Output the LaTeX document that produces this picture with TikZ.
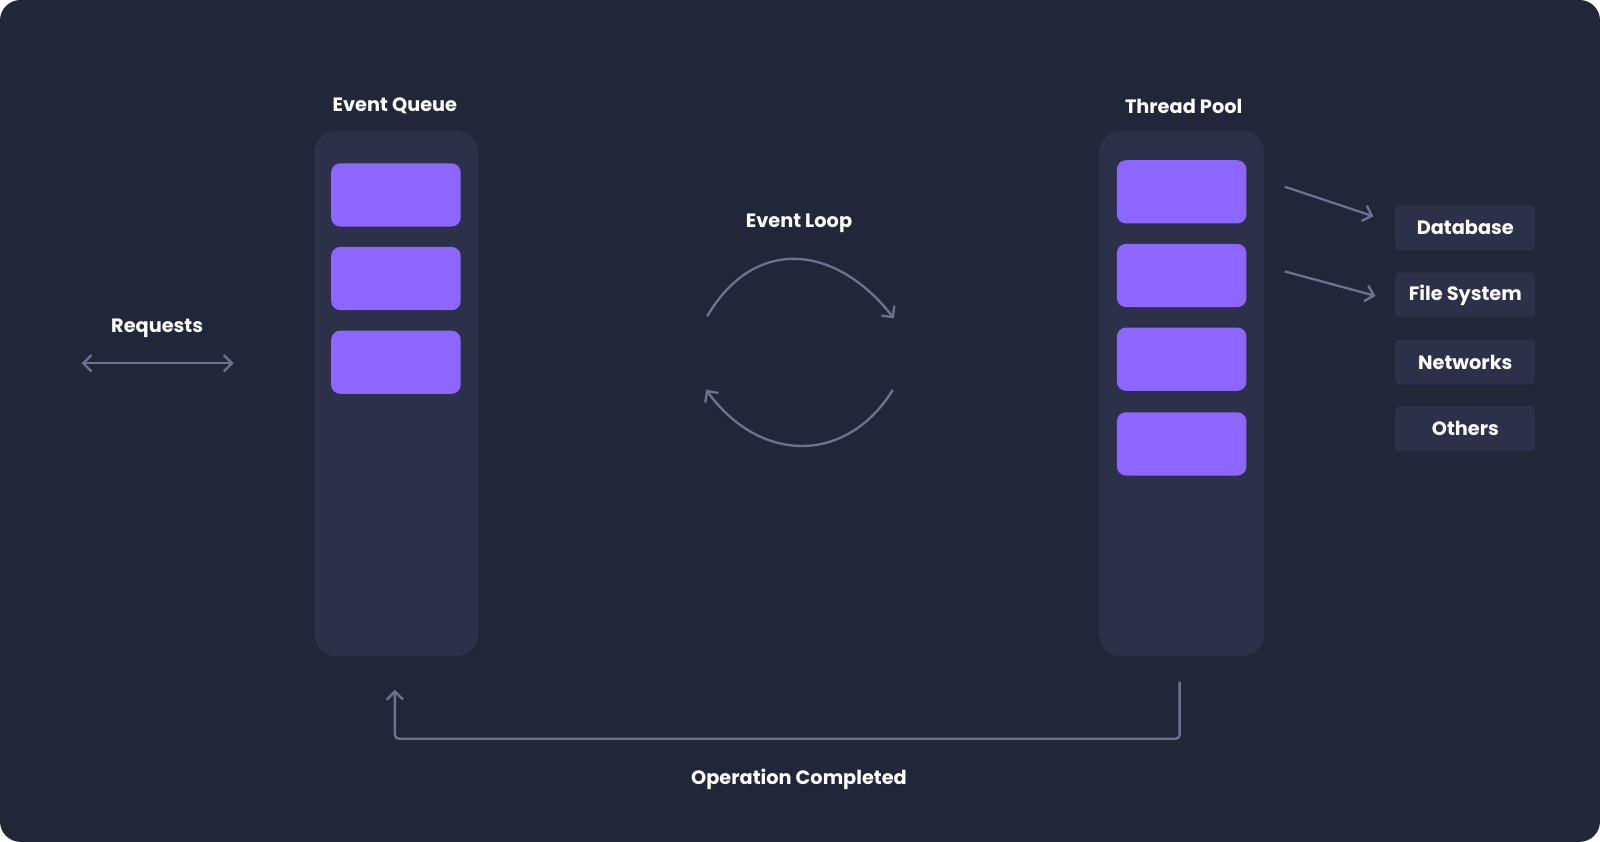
\documentclass[tikz,border=0pt]{standalone}
\usepackage{fontspec}
\setmainfont{Poppins}
\usetikzlibrary{arrows.meta,positioning}
\definecolor{bgdark}{HTML}{222639}
\definecolor{colfill}{HTML}{2C3049}
\definecolor{slotfill}{HTML}{8C66FF}
\definecolor{wire}{HTML}{6E7291}
\begin{document}
\begin{tikzpicture}[x=1bp,y=-1bp]
    % Define styles
    \tikzset{
        label/.style={text=white, font=\bfseries\fontsize{19}{21}\selectfont},
        column/.style={fill=colfill, rounded corners=22bp},
        slot/.style={fill=slotfill, rounded corners=9bp, minimum width=127bp, minimum height=62bp, inner sep=0pt},
        target/.style={fill=colfill, rounded corners=4bp, minimum width=137bp, minimum height=44bp, inner sep=0pt, label},
        link/.style={wire, line width=2.3pt, -{Straight Barb[length=8bp,width=16bp]}}
    }

    % Background
    \fill[bgdark, rounded corners=20bp] (0,0) rectangle (1568,825);
    \useasboundingbox (0,0) rectangle (1568,825);

    % Columns
    \fill[column] (308,128) rectangle (469,643);
    \fill[column] (1077,128) rectangle (1239,643);
    \node[label] (queuetitle) at (387,104) {Event Queue};
    \node[label] (pooltitle) at (1160,104) {Thread Pool};

    % Queue slots
    \foreach \y [count=\i] in {191,273,355}
        \node[slot] (q\i) at (388,\y) {};

    % Pool slots
    \foreach \y [count=\i] in {188,270,352,435}
        \node[slot] (p\i) at (1158,\y) {};

    % Event loop
    \node[label] (looptitle) at (783,219) {Event Loop};
    \coordinate (la) at (693,310);
    \coordinate (lb) at (876,312);
    \coordinate (lc) at (875,382);
    \coordinate (ld) at (692,382);
    \draw[link] (la) .. controls (740,230) and (820,240) .. (lb);
    \draw[link] (lc) .. controls (830,455) and (745,455) .. (ld);

    % Requests
    \node[label] (requests) at (154,322) {Requests};
    \coordinate (rl) at (80,356);
    \coordinate (rr) at (229,356);
    \draw[link, {Straight Barb[length=8bp,width=16bp]}-{Straight Barb[length=8bp,width=16bp]}] (rl) -- (rr);

    % Targets
    \node[target] (db) at (1436,223) {Database};
    \node[target] (fs) at (1436,289) {File System};
    \node[target] (net) at (1436,355) {Networks};
    \node[target] (oth) at (1436,420) {Others};
    \coordinate (a1) at (1259,183);
    \coordinate (a2) at (1259,266);
    \draw[link] (a1) -- (1346,212);
    \draw[link] (a2) -- (1348,290);

    % Feedback
    \coordinate (fbstart) at (1156,668);
    \coordinate (fbend) at (387,676);
    \draw[link, rounded corners=4bp] (fbstart) -- (1156,724) -- (387,724) -- (fbend);
    \node[label] (done) at (783,764) {Operation Completed};
\end{tikzpicture}
\end{document}
